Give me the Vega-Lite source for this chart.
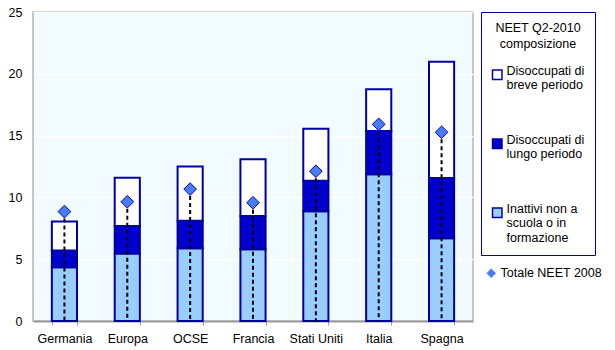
{
  "$schema": "https://vega.github.io/schema/vega-lite/v6.json",
  "width": 440,
  "height": 309,
  "autosize": "none",
  "padding": {"left": 33, "top": 12, "right": 142, "bottom": 29},
  "background": "white",
  "config": {
    "font": "Liberation Sans",
    "view": {"fill": "#F2FBFF", "stroke": "#B4B4B4", "strokeWidth": 1.5},
    "axis": {"labelFont": "Liberation Sans", "labelFontSize": 12.5, "labelColor": "#000000"}
  },
  "datasets": {
    "comp": [
      {"paese": "Germania", "componente": "Inattivi non a scuola o in formazione", "k": 1, "valore": 4.35},
      {"paese": "Germania", "componente": "Disoccupati di lungo periodo", "k": 2, "valore": 1.35},
      {"paese": "Germania", "componente": "Disoccupati di breve periodo", "k": 3, "valore": 2.36},
      {"paese": "Europa", "componente": "Inattivi non a scuola o in formazione", "k": 1, "valore": 5.46},
      {"paese": "Europa", "componente": "Disoccupati di lungo periodo", "k": 2, "valore": 2.23},
      {"paese": "Europa", "componente": "Disoccupati di breve periodo", "k": 3, "valore": 3.9},
      {"paese": "OCSE", "componente": "Inattivi non a scuola o in formazione", "k": 1, "valore": 5.89},
      {"paese": "OCSE", "componente": "Disoccupati di lungo periodo", "k": 2, "valore": 2.23},
      {"paese": "OCSE", "componente": "Disoccupati di breve periodo", "k": 3, "valore": 4.38},
      {"paese": "Francia", "componente": "Inattivi non a scuola o in formazione", "k": 1, "valore": 5.81},
      {"paese": "Francia", "componente": "Disoccupati di lungo periodo", "k": 2, "valore": 2.68},
      {"paese": "Francia", "componente": "Disoccupati di breve periodo", "k": 3, "valore": 4.6},
      {"paese": "Stati Uniti", "componente": "Inattivi non a scuola o in formazione", "k": 1, "valore": 8.87},
      {"paese": "Stati Uniti", "componente": "Disoccupati di lungo periodo", "k": 2, "valore": 2.47},
      {"paese": "Stati Uniti", "componente": "Disoccupati di breve periodo", "k": 3, "valore": 4.22},
      {"paese": "Italia", "componente": "Inattivi non a scuola o in formazione", "k": 1, "valore": 11.88},
      {"paese": "Italia", "componente": "Disoccupati di lungo periodo", "k": 2, "valore": 3.5},
      {"paese": "Italia", "componente": "Disoccupati di breve periodo", "k": 3, "valore": 3.38},
      {"paese": "Spagna", "componente": "Inattivi non a scuola o in formazione", "k": 1, "valore": 6.69},
      {"paese": "Spagna", "componente": "Disoccupati di lungo periodo", "k": 2, "valore": 4.87},
      {"paese": "Spagna", "componente": "Disoccupati di breve periodo", "k": 3, "valore": 9.41}
    ],
    "tot2008": [
      {"paese": "Germania", "serie": "Totale NEET 2008", "totale": 8.85, "base": 0},
      {"paese": "Europa", "serie": "Totale NEET 2008", "totale": 9.65, "base": 0},
      {"paese": "OCSE", "serie": "Totale NEET 2008", "totale": 10.67, "base": 0},
      {"paese": "Francia", "serie": "Totale NEET 2008", "totale": 9.57, "base": 0},
      {"paese": "Stati Uniti", "serie": "Totale NEET 2008", "totale": 12.12, "base": 0},
      {"paese": "Italia", "serie": "Totale NEET 2008", "totale": 15.91, "base": 0},
      {"paese": "Spagna", "serie": "Totale NEET 2008", "totale": 15.27, "base": 0}
    ]
  },
  "layer": [
    {
      "data": {"name": "comp"},
      "mark": {"type": "bar", "stroke": "#0000A0", "strokeWidth": 2, "strokeJoin": "miter"},
      "encoding": {
        "x": {
          "field": "paese",
          "type": "nominal",
          "sort": ["Germania", "Europa", "OCSE", "Francia", "Stati Uniti", "Italia", "Spagna"],
          "scale": {"paddingInner": 0.6, "paddingOuter": 0.3},
          "axis": {
            "title": null,
            "labelAngle": 0,
            "domainColor": "#999999",
            "domainWidth": 2,
            "tickColor": "#999999",
            "tickSize": 4,
            "tickBand": "extent",
            "labelPadding": 7,
            "grid": false
          }
        },
        "y": {
          "field": "valore",
          "type": "quantitative",
          "stack": "zero",
          "scale": {"domain": [0, 25], "nice": false},
          "axis": {
            "title": null,
            "values": [0, 5, 10, 15, 20, 25],
            "grid": true,
            "gridColor": "#FFFFFF",
            "gridWidth": 1.5,
            "domain": false,
            "ticks": false,
            "labelPadding": 11
          }
        },
        "order": {"field": "k", "type": "quantitative"},
        "fill": {
          "field": "componente",
          "type": "nominal",
          "scale": {
            "domain": ["Disoccupati di breve periodo", "Disoccupati di lungo periodo", "Inattivi non a scuola o in formazione"],
            "range": ["#FFFFFF", "#0000CC", "#99CCFF"]
          },
          "legend": {
            "orient": "right",
            "offset": 8,
            "title": ["NEET Q2-2010", "composizione"],
            "titleFont": "Liberation Sans",
            "titleFontSize": 12.5,
            "titleFontWeight": "normal",
            "titleAlign": "center",
            "titleAnchor": "middle",
            "titlePadding": 18,
            "titleLineHeight": 16,
            "labelFont": "Liberation Sans",
            "labelFontSize": 12.5,
            "labelLineHeight": 15,
            "labelBaseline": "alphabetic",
            "labelOffset": 3,
            "labelLimit": 200,
            "labelExpr": "datum.label == 'Disoccupati di breve periodo' ? ['Disoccupati di', 'breve periodo'] : datum.label == 'Disoccupati di lungo periodo' ? ['Disoccupati di', 'lungo periodo'] : ['Inattivi non a', 'scuola o in', 'formazione']",
            "symbolType": "square",
            "symbolSize": 90,
            "symbolStrokeColor": "#0000A0",
            "symbolStrokeWidth": 1.5,
            "rowPadding": 41,
            "strokeColor": "#0000A0",
            "padding": 10,
            "cornerRadius": 0
          }
        }
      }
    },
    {
      "data": {"name": "tot2008"},
      "mark": {"type": "rule", "color": "#000000", "strokeWidth": 2, "strokeDash": [4, 3]},
      "encoding": {
        "x": {"field": "paese", "type": "nominal", "sort": ["Germania", "Europa", "OCSE", "Francia", "Stati Uniti", "Italia", "Spagna"]},
        "y": {"field": "totale", "type": "quantitative"},
        "y2": {"field": "base"}
      }
    },
    {
      "data": {"name": "tot2008"},
      "mark": {"type": "point", "filled": true, "fill": "#4A7CF0", "stroke": "#0000CC", "strokeWidth": 1, "size": 160, "opacity": 1},
      "encoding": {
        "x": {"field": "paese", "type": "nominal", "sort": ["Germania", "Europa", "OCSE", "Francia", "Stati Uniti", "Italia", "Spagna"]},
        "y": {"field": "totale", "type": "quantitative"},
        "shape": {
          "field": "serie",
          "type": "nominal",
          "scale": {"range": ["diamond"]},
          "legend": {
            "orient": "right",
            "title": null,
            "labelFont": "Liberation Sans",
            "labelFontSize": 12.5,
            "labelOffset": 3,
            "symbolSize": 90,
            "symbolFillColor": "#4A7CF0",
            "symbolStrokeColor": "#0000CC",
            "symbolStrokeWidth": 1,
            "padding": 4
          }
        }
      }
    }
  ]
}
